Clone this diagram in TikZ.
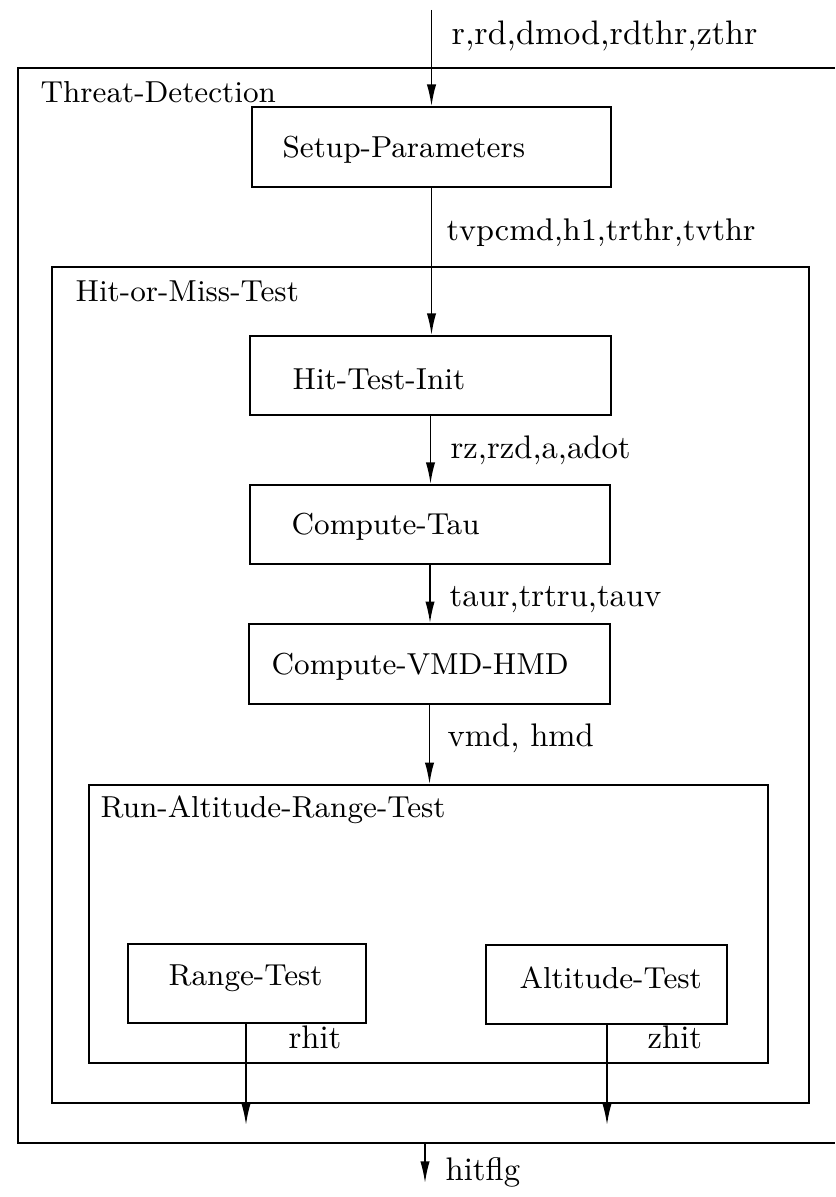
\documentclass[tikz,border=0pt]{standalone}
\usetikzlibrary{arrows.meta}
\begin{document}
\begin{tikzpicture}[x=0.3pt,y=-0.3pt,
  every node/.style={inner sep=0pt,font=\fontsize{9.1}{11}\selectfont},
  box/.style={draw,line width=0.5pt,minimum height=23.8pt},
  frame/.style={draw,line width=0.5pt},
  txt/.style={anchor=west},
  lbl/.style={anchor=west,font=\fontsize{9.8}{12}\selectfont},
  arr/.style={line width=0.5pt,-{Latex[length=6.5pt,width=2.8pt]}},
  line/.style={line width=0.5pt}]
\useasboundingbox (0,0) rectangle (835,1197);
% outer frame (open at right edge)
\draw[line] (835,68) -- (18,68) -- (18,1143) -- (835,1143);
\node[txt] (tdl) at (40,92) {Threat-Detection};
% boxes
\node[box,minimum width=107.7pt,minimum height=24pt] (setup) at (431.5,147) {};
\node[txt] (setupt) at (282,150) {Setup-Parameters};
\node[frame,minimum width=227.1pt,minimum height=250.8pt] (hom) at (430.5,685) {};
\node[txt] (homl) at (75,291) {Hit-or-Miss-Test};
\node[box,minimum width=108.3pt] (hti) at (430.5,375.5) {};
\node[txt] (htit) at (292,379) {Hit-Test-Init};
\node[box,minimum width=108pt] (ctau) at (430,524.5) {};
\node[txt] (ctaut) at (291,527) {Compute-Tau};
\node[box,minimum width=108.3pt,minimum height=24pt] (cvmd) at (429.5,664) {};
\node[txt] (cvmdt) at (271,667) {Compute-VMD-HMD};
\node[frame,minimum width=203.7pt,minimum height=83.4pt] (rart) at (428.5,924) {};
\node[txt] (rartl) at (100,810) {Run-Altitude-Range-Test};
\node[box,minimum width=71.4pt] (range) at (247,983.5) {};
\node[txt] (ranget) at (168,978) {Range-Test};
\node[box,minimum width=72.3pt] (alt) at (606.5,984.5) {};
\node[txt] (altt) at (519,978) {Altitude-Test};
% coordinates
\coordinate (in) at (431.5,10);
\coordinate (rout) at (246,1125);
\coordinate (aout) at (607,1125);
\coordinate (tdb) at (425,1143);
\coordinate (hf) at (425,1183);
% connectors
\draw[arr] (in) -- (setup.north);
\draw[arr] (setup.south) -- (setup.south |- hti.north);
\draw[arr] (hti.south) -- (ctau.north -| hti.south);
\draw[arr] (ctau.south) -- (cvmd.north -| ctau.south);
\draw[arr] (cvmd.south) -- (cvmd.south |- rart.north);
\draw[arr] (range.south -| rout) -- (rout);
\draw[arr] (alt.south -| aout) -- (aout);
\draw[arr] (tdb) -- (hf);
% labels
\node[lbl,font=\fontsize{10.2}{12}\selectfont] (l1) at (451,36) {r,rd,dmod,rdthr,zthr};
\node[lbl,font=\fontsize{9.4}{12}\selectfont] (l2) at (446,233) {tvpcmd,h1,trthr,tvthr};
\node[lbl] (l3) at (450,450) {rz,rzd,a,adot};
\node[lbl] (l4) at (449,600) {taur,trtru,tauv};
\node[lbl] (l5) at (447,738) {vmd, hmd};
\node[lbl] (l6) at (288,1037) {rhit};
\node[lbl] (l7) at (647,1037) {zhit};
\node[lbl] (l8) at (445,1172) {hitflg};
\end{tikzpicture}
\end{document}
